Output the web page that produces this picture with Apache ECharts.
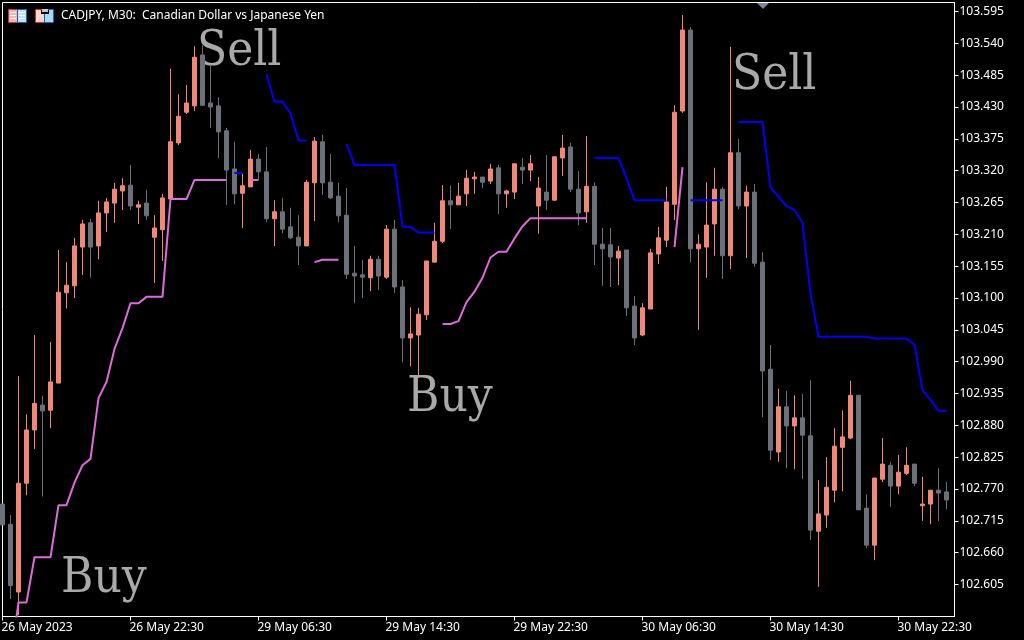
<!DOCTYPE html>
<html><head><meta charset="utf-8">
<style>html,body{margin:0;padding:0;background:#000}#c{width:1024px;height:640px}</style>
<script src="https://cdn.jsdelivr.net/npm/echarts@6/dist/echarts.min.js"></script>
</head><body><div id="c"></div>
<script>
const opens = [
102.744,102.709,102.592,102.780,102.872,102.915,102.906,102.953,103.109,103.121,
103.188,103.230,103.190,103.247,103.264,103.285,103.295,103.257,103.264,103.205,
103.218,103.271,103.368,103.421,103.432,103.520,103.437,103.432,103.389,103.323,
103.281,103.292,103.340,103.318,103.237,103.249,103.223,103.205,103.190,103.299,
103.370,103.300,103.276,103.243,103.143,103.140,103.135,103.167,103.136,103.219,
103.119,103.031,103.036,103.071,103.162,103.198,103.268,103.261,103.280,103.306,
103.309,103.302,103.325,103.280,103.283,103.326,103.321,103.259,103.283,103.269,
103.342,103.361,103.288,103.249,103.293,103.193,103.192,103.169,103.183,103.086,
103.036,103.081,103.176,103.200,103.262,103.423,103.563,103.185,103.188,103.228,
103.288,103.173,103.351,103.259,103.283,103.162,102.977,102.834,102.912,102.879,
102.893,102.862,102.697,102.725,102.768,102.842,102.858,102.932,102.737,102.673,
102.787,102.811,102.775,102.797,102.813,102.741,102.744,102.768,102.765];
const closes = [
102.708,102.603,102.780,102.872,102.918,102.905,102.955,103.110,103.122,103.190,
103.228,103.188,103.247,103.266,103.288,103.294,103.259,103.261,103.242,103.221,
103.273,103.370,103.414,103.437,103.516,103.433,103.430,103.387,103.321,103.280,
103.294,103.340,103.318,103.237,103.249,103.219,103.204,103.190,103.300,103.371,
103.299,103.273,103.242,103.141,103.138,103.136,103.167,103.138,103.219,103.119,
103.031,103.038,103.072,103.164,103.198,103.268,103.261,103.276,103.307,103.309,
103.300,103.323,103.280,103.285,103.332,103.321,103.332,103.290,103.269,103.344,
103.359,103.288,103.247,103.293,103.193,103.185,103.171,103.181,103.083,103.031,
103.083,103.178,103.204,103.266,103.421,103.563,103.185,103.193,103.226,103.288,
103.173,103.351,103.259,103.283,103.160,102.974,102.837,102.912,102.879,102.893,
102.863,102.699,102.727,102.773,102.844,102.860,102.932,102.734,102.673,102.789,
102.813,102.775,102.799,102.811,102.780,102.744,102.768,102.763,102.751];
const lows = [
102.708,102.580,102.552,102.759,102.839,102.757,102.875,102.953,103.082,103.100,
103.140,103.135,103.167,103.214,103.230,103.252,103.252,103.228,103.235,103.126,
103.164,103.271,103.364,103.418,103.423,103.432,103.394,103.342,103.261,103.262,
103.221,103.292,103.304,103.231,103.190,103.212,103.202,103.157,103.190,103.233,
103.278,103.271,103.231,103.133,103.091,103.100,103.112,103.114,103.133,103.109,
102.989,102.982,102.962,103.062,103.162,103.195,103.219,103.261,103.259,103.280,
103.290,103.297,103.245,103.256,103.271,103.297,103.302,103.211,103.252,103.268,
103.311,103.283,103.226,103.230,103.157,103.121,103.119,103.122,103.069,103.019,
103.034,103.081,103.159,103.188,103.235,103.420,103.162,103.045,103.135,103.173,
103.133,103.150,103.254,103.169,103.154,102.894,102.820,102.817,102.806,102.804,
102.787,102.682,102.601,102.703,102.747,102.766,102.856,102.734,102.668,102.647,
102.782,102.739,102.761,102.794,102.775,102.715,102.709,102.715,102.735];
const highs = [
102.744,102.725,102.965,102.899,103.036,102.931,103.024,103.183,103.162,103.204,
103.235,103.237,103.268,103.273,103.299,103.307,103.330,103.268,103.287,103.243,
103.280,103.496,103.452,103.468,103.535,103.537,103.503,103.447,103.394,103.370,
103.315,103.356,103.349,103.361,103.269,103.273,103.256,103.243,103.304,103.378,
103.382,103.349,103.299,103.290,103.190,103.166,103.173,103.173,103.226,103.235,
103.131,103.084,103.083,103.164,103.230,103.295,103.294,103.299,103.321,103.318,
103.309,103.332,103.330,103.287,103.332,103.342,103.347,103.309,103.347,103.344,
103.382,103.368,103.319,103.380,103.300,103.221,103.221,103.190,103.183,103.103,
103.091,103.185,103.223,103.292,103.433,103.589,103.568,103.210,103.300,103.325,
103.292,103.534,103.375,103.294,103.297,103.179,103.019,102.943,102.939,102.932,
102.934,102.958,102.785,102.825,102.875,102.906,102.957,102.932,102.761,102.789,
102.858,102.817,102.829,102.842,102.813,102.791,102.768,102.806,102.782];
const _ = null;
const buyLine = [
_,102.475,102.574,102.574,102.652,102.652,102.652,102.742,102.742,102.781,
102.811,102.822,102.927,102.955,103.012,103.048,103.091,103.091,103.102,103.102,
103.102,103.271,103.271,103.271,103.304,103.304,103.304,103.304,103.304,_,
_,103.304,103.304,_,_,_,_,_,_,103.162,
103.166,103.166,103.166,_,_,_,_,_,_,_,
_,_,_,_,_,103.055,103.055,103.060,103.093,103.111,
103.135,103.170,103.180,103.180,103.203,103.224,103.238,103.238,103.238,103.238,
103.238,103.238,103.238,103.238,_,_,_,_,_,_,
_,_,_,_,103.188,103.326,_,_,_,_,
_,_,_,_,_,_,_,_,_,_,
_,_,_,_,_,_,_,_,_,_,
_,_,_,_,_,_,_,_,_];
const sellLine = [
_,_,_,_,_,_,_,_,_,_,
_,_,_,_,_,_,_,_,_,_,
_,_,_,_,_,_,_,_,_,103.316,
103.316,_,_,103.487,103.439,103.439,103.419,103.372,103.372,_,
_,_,_,103.366,103.330,103.330,103.330,103.330,103.330,103.330,
103.223,103.223,103.213,103.213,103.213,_,_,_,_,_,
_,_,_,_,_,_,_,_,_,_,
_,_,_,_,103.342,103.342,103.342,103.342,103.307,103.269,
103.269,103.269,103.269,103.269,_,_,103.269,103.269,103.269,103.269,
103.269,_,103.404,103.404,103.404,103.404,103.291,103.275,103.259,103.252,
103.230,103.108,103.033,103.033,103.033,103.033,103.033,103.033,103.033,103.030,
103.030,103.030,103.030,103.030,103.019,102.941,102.924,102.905,102.905];
const priceTicks = [102.605,102.660,102.715,102.770,102.825,102.880,102.935,102.990,103.045,103.100,103.155,103.210,103.265,103.320,103.375,103.430,103.485,103.540,103.595];
const dateTicks = ['26 May 2023','26 May 22:30','29 May 06:30','29 May 14:30','29 May 22:30','30 May 06:30','30 May 14:30','30 May 22:30'];
const chartTitle = 'CADJPY, M30:  Canadian Dollar vs Japanese Yen';

const candles = opens.map((o,i)=>[o,closes[i],lows[i],highs[i]]);
const cats = opens.map((_v,i)=>String(i)).concat(['']);
const UI = '"Noto Sans", sans-serif';
const SL = '"DejaVu Serif Condensed","DejaVu Serif",serif';
function rect(x,y,w,h,fill,stroke){return {type:'rect',silent:true,shape:{x,y,width:w,height:h},style:{fill:fill,stroke:stroke||null,lineWidth:stroke?1:0}};}
const red='#C8303A',blu='#1468B0';
const deco=[
 rect(8.5,9.5,9,13,'#F6B5B0',red),
 rect(17.5,9.5,9,13,'#BFE0F6',blu),
 rect(10,12,6,1,'#fff'),rect(10,15,6,1,'#fff'),rect(10,18,6,1,'#fff'),
 rect(19,12,6,1,'#fff'),rect(19,15,6,1,'#fff'),rect(19,18,6,1,'#fff'),
 rect(35.5,9.5,9,13,'#FBD5D0',red),
 rect(44.5,9.5,9,13,'#A9D8F6',blu),
 rect(41,10,8,4,'#000'),
 rect(42,9,6,3,'#C8C8C8'),
 {type:'polygon',silent:true,shape:{points:[[757,3],[769,3],[763,9]]},style:{fill:'#778899'}},
 {type:'text',silent:true,style:{x:61,y:16,text:chartTitle,fill:'#fff',font:'12px '+UI,textVerticalAlign:'middle'}},
 {type:'text',silent:true,style:{x:197,y:52,text:'Sell',fill:'#A9A9A9',font:'49px '+SL,textVerticalAlign:'middle'}},
 {type:'text',silent:true,style:{x:732,y:76,text:'Sell',fill:'#A9A9A9',font:'49px '+SL,textVerticalAlign:'middle'}},
 {type:'text',silent:true,style:{x:407,y:398,text:'Buy',fill:'#A9A9A9',font:'49px '+SL,textVerticalAlign:'middle'}},
 {type:'text',silent:true,style:{x:61,y:579,text:'Buy',fill:'#A9A9A9',font:'49px '+SL,textVerticalAlign:'middle'}}
];
const chart = echarts.init(document.getElementById('c'),null,{renderer:'canvas'});
chart.setOption({
 animation:false,
 backgroundColor:'#000',
 grid:{left:2.5,top:2.5,right:69.5,bottom:23.5,show:true,borderColor:'#fff',borderWidth:1,backgroundColor:'#000',containLabel:false,outerBoundsMode:'none'},
 tooltip:{show:false},
 xAxis:{type:'category',data:cats,boundaryGap:false,
  axisLine:{show:true,onZero:false,lineStyle:{color:'#fff',width:1}},
  axisTick:{show:true,interval:15,length:4,lineStyle:{color:'#fff'}},
  axisLabel:{show:true,interval:15,align:'left',margin:5,color:'#fff',fontFamily:UI,fontSize:12,hideOverlap:false,padding:[0,0,0,-1],
   formatter:(v,i)=>dateTicks[i/16]||''},
  splitLine:{show:false}},
 yAxis:{type:'value',position:'right',min:102.5497,max:103.6106,scale:true,
  axisLine:{show:true,lineStyle:{color:'#fff',width:1}},
  axisTick:{show:true,length:4,customValues:priceTicks,lineStyle:{color:'#fff'}},
  axisLabel:{show:true,customValues:priceTicks,margin:5,color:'#fff',fontFamily:UI,fontSize:12,padding:[2,0,0,0],formatter:v=>v.toFixed(3)},
  splitLine:{show:false}},
 series:[
  {type:'candlestick',data:candles,barWidth:4,clip:true,
   itemStyle:{color:'#F08878',color0:'#6A7178',borderColor:'#F08878',borderColor0:'#6A7178',borderWidth:1}},
  {type:'line',data:buyLine,showSymbol:false,symbol:'none',connectNulls:false,clip:true,smooth:false,lineStyle:{color:'#DF6BDB',width:2}},
  {type:'line',data:sellLine,showSymbol:false,symbol:'none',connectNulls:false,clip:true,smooth:false,lineStyle:{color:'#0000F5',width:2}}
 ],
 graphic:{elements:deco}
});
</script></body></html>
